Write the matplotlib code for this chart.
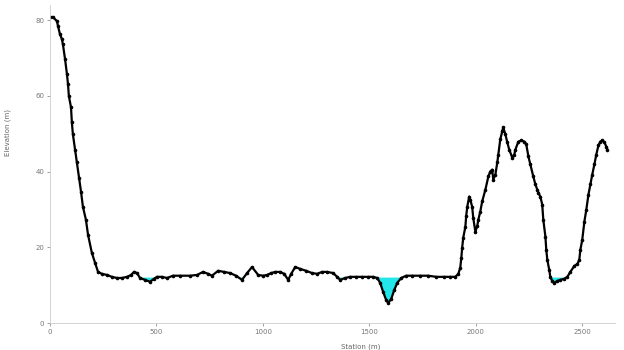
import matplotlib
matplotlib.use("Agg")
import matplotlib.pyplot as plt
import numpy as np

# Cross-section survey: station along the section and ground elevation
station = [
    0, 14, 33, 38, 47, 56, 61, 71, 80, 85, 89, 99, 103, 108, 118, 127, 136, 146,
    155, 169, 179, 197, 212, 226, 244, 268, 291, 315, 338, 362, 381, 395, 409,
    423, 447, 470, 489, 503, 526, 550, 578, 611, 658, 691, 719, 743, 761, 790,
    818, 846, 874, 902, 926, 949, 978, 1001, 1020, 1039, 1058, 1081, 1100, 1119,
    1133, 1152, 1175, 1203, 1231, 1255, 1278, 1302, 1330, 1349, 1363, 1387,
    1410, 1438, 1466, 1495, 1518, 1537, 1551, 1565, 1579, 1589, 1603, 1617,
    1631, 1650, 1673, 1701, 1739, 1777, 1814, 1852, 1880, 1904, 1918, 1927,
    1932, 1936, 1941, 1951, 1955, 1960, 1969, 1974, 1983, 1988, 1998, 2007,
    2012, 2021, 2030, 2045, 2059, 2068, 2077, 2082, 2092, 2101, 2106, 2115,
    2124, 2129, 2139, 2148, 2157, 2171, 2181, 2186, 2200, 2214, 2228, 2237,
    2247, 2256, 2270, 2280, 2289, 2294, 2303, 2312, 2317, 2327, 2331, 2336,
    2345, 2350, 2359, 2369, 2383, 2397, 2416, 2430, 2444, 2463, 2477, 2486,
    2491, 2500, 2510, 2519, 2529, 2538, 2547, 2557, 2566, 2576, 2585, 2594,
    2604, 2613, 2618,
]
elevation = [
    80.8, 80.8, 79.7, 78.4, 76.3, 75.0, 73.6, 69.7, 65.7, 63.0, 59.9, 57.0,
    53.0, 49.8, 45.8, 42.4, 38.4, 34.7, 30.7, 27.3, 23.3, 18.5, 15.9, 13.5,
    13.0, 12.7, 12.2, 11.9, 11.9, 12.2, 12.7, 13.5, 13.2, 11.9, 11.4, 10.9,
    11.7, 12.2, 12.2, 11.9, 12.5, 12.5, 12.5, 12.7, 13.5, 13.0, 12.5, 13.8,
    13.5, 13.2, 12.5, 11.4, 13.2, 14.8, 12.7, 12.5, 12.7, 13.2, 13.5, 13.5,
    13.0, 11.4, 13.0, 14.8, 14.3, 13.8, 13.2, 13.0, 13.5, 13.5, 13.2, 12.2,
    11.4, 11.9, 12.2, 12.2, 12.2, 12.2, 12.2, 11.9, 10.6, 8.2, 6.1, 5.3, 6.4,
    8.7, 10.6, 11.9, 12.5, 12.5, 12.5, 12.5, 12.2, 12.2, 12.2, 12.2, 13.0,
    14.6, 17.2, 19.9, 22.5, 25.4, 28.3, 30.7, 33.4, 32.6, 30.7, 27.8, 24.1,
    25.7, 27.3, 29.4, 32.1, 35.2, 38.7, 40.0, 40.5, 37.9, 39.2, 42.4, 44.5,
    48.5, 50.6, 51.7, 49.8, 47.7, 45.8, 43.7, 44.5, 45.8, 47.9, 48.2, 47.9,
    47.2, 44.0, 41.9, 38.7, 36.6, 35.2, 34.4, 33.4, 31.3, 27.3, 22.8, 19.3,
    16.7, 14.0, 12.2, 11.1, 10.6, 11.1, 11.4, 11.7, 12.2, 13.5, 15.1, 15.6,
    16.7, 19.3, 22.0, 26.8, 29.9, 33.9, 36.6, 39.2, 41.9, 44.5, 46.9, 47.9,
    48.2, 47.7, 46.6, 45.8,
]
water_level = 12.0

x_ticks = [0, 500, 1000, 1500, 2000, 2500]
y_ticks = [0, 20, 40, 60, 80]

st = np.array(station, dtype=float)
el = np.array(elevation, dtype=float)

fig = plt.figure(figsize=(6.24, 3.5), dpi=100)
ax = fig.add_axes([0.080, 0.077, 0.906, 0.909])

# Wetted area below the water surface
ax.fill_between(st, el, water_level, where=el < water_level,
                interpolate=True, color="#22e6ea", linewidth=0, zorder=1)

ax.plot(st, el, color="black", linewidth=1.6, marker="o",
        markersize=2.6, markeredgewidth=0, zorder=2)

ax.set_xlim(0, 2655)
ax.set_ylim(0, 84)
ax.set_xticks(x_ticks)
ax.set_yticks(y_ticks)
ax.tick_params(axis="both", labelsize=5, colors="#777777", length=2,
               width=0.5, pad=2)
for side in ("top", "right"):
    ax.spines[side].set_visible(False)
for side in ("left", "bottom"):
    ax.spines[side].set_color("#cccccc")
    ax.spines[side].set_linewidth(0.6)

ax.set_xlabel("Station (m)", fontsize=5, color="#666666")
ax.set_ylabel("Elevation (m)", fontsize=5, color="#666666")
ax.xaxis.set_label_coords(0.55, -0.065)
ax.yaxis.set_label_coords(-0.068, 0.6)

fig.savefig("out.png", dpi=100)
